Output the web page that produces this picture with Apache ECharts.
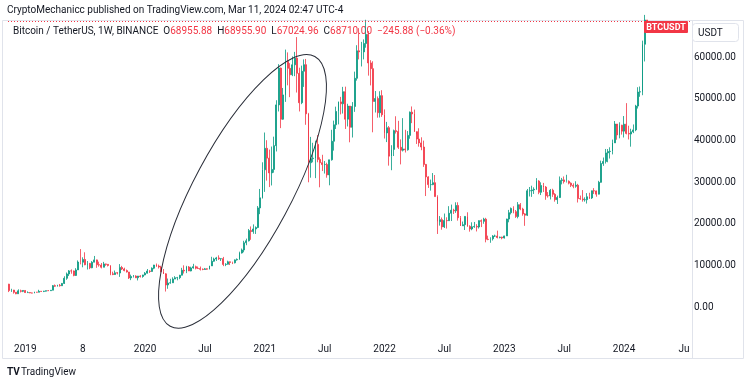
<!DOCTYPE html>
<html>
<head>
<meta charset="utf-8">
<script src="https://cdn.jsdelivr.net/npm/echarts@6/dist/echarts.min.js"></script>
<style>html,body{margin:0;padding:0;background:#fff}#c{width:750px;height:385px}</style>
</head>
<body>
<div id="c"></div>
<script>
// Weekly BTCUSDT candles, each [open, close, low, high]
const candles2018 = [ // from week of 2018-11-19
  [5560,4010,3650,5630],[4010,4140,3690,4440],[4140,3610,3270,4180],[3610,3230,3150,3640],
  [3240,3960,3230,4310],[3960,3830,3560,4240],[3830,4040,3640,4100]
];
const candles2019 = [
  [4040,3530,3460,4110],[3530,3530,3480,3820],[3530,3440,3400,3620],[3440,3410,3350,3530],
  [3410,3630,3370,3740],[3630,3610,3560,3680],[3610,3830,3600,4200],[3830,3820,3730,3900],
  [3810,3880,3650,3940],[3880,3990,3780,4000],[3990,3980,3910,4120],[3980,4100,3940,4130],
  [4100,5190,4080,5350],[5190,5060,4920,5470],[5060,5290,4990,5410],[5290,5170,4960,5600],
  [5170,5730,5150,5840],[5730,6960,5600,7450],[6960,8000,6600,8350],[8000,8740,7500,8950],
  [8740,8725,8060,9090],[8725,7640,7450,8830],[7640,8960,7520,9390],[8970,10860,8950,11250],
  [10860,10820,10300,13970],[10820,11480,9600,12000],[11480,10200,10100,13200],[10200,10540,9070,11100],
  [10540,9480,9150,10650],[9480,10820,9380,11080],[10820,11380,10800,12320],[11380,10220,9470,11450],
  [10220,10140,9750,10950],[10140,9610,9330,10620],[9610,10400,9600,10900],[10400,10310,9950,10470],
  [10310,10040,9800,10350],[10040,8050,7700,10060],[8050,7860,7710,8550],[7860,8280,7780,8830],
  [8280,8220,7880,8420],[8220,9550,7300,10370],[9550,9200,8950,9940],[9200,8810,8640,9500],
  [8810,8470,8350,9070],[8470,7050,6790,8480],[7050,7400,6520,7840],[7400,7510,7150,7750],
  [7510,7080,7020,7680],[7080,7510,6440,7520],[7510,7390,7150,7700],[7390,7760,7100,7800]
];
const candles2020 = [
  [7760,8180,7680,8460],[8180,8710,8100,9190],[8710,8600,8240,8900],[8600,9380,8540,9580],
  [9380,10150,9140,10180],[10150,9900,9700,10500],[9900,9660,9300,10250],[9660,8530,8400,9960],
  [8530,8030,8000,9190],[8030,5360,3780,8180],[5360,5820,4440,6900],[5820,5880,5670,6840],
  [5880,6770,5860,7200],[6770,7100,6780,7470],[7100,7120,6480,7300],[7120,7700,6750,7780],
  [7700,8880,7650,9470],[8880,8720,8100,10070],[8720,9680,8200,9950],[9680,8720,8700,9900],
  [8720,9450,8630,9740],[9450,9750,9270,10430],[9750,9380,9100,10000],[9380,9300,9200,9790],
  [9300,9120,8830,9780],[9120,9070,8900,9330],[9070,9230,9050,9440],[9230,9160,9010,9340],
  [9160,9930,9080,9970],[9930,11050,9940,12120],[11050,11580,10930,11920],[11580,11850,11120,12100],
  [11850,11650,11370,12470],[11650,11680,11120,11760],[11680,10280,9880,12090],[10280,10330,9880,10580],
  [10330,10920,10260,11180],[10920,10770,10140,10990],[10770,10670,10370,10950],[10670,11380,10530,11490],
  [11380,11500,11200,11720],[11500,13030,11410,13350],[13030,13760,12900,14100],[13760,15480,13200,15960],
  [15480,15960,14900,16480],[15960,18410,15800,18800],[18410,18180,16200,19400],[18180,18800,17650,19900],
  [18800,19150,17600,19420],[19150,23850,19000,24300],[23850,26270,22350,28400],[26270,33000,26100,34800]
];
const candles2021 = [
  [33000,38150,27700,41950],[38150,35800,30400,40100],[35800,32260,28850,37850],[32260,33090,29240,38580],
  [33090,38800,32300,40950],[38800,48580,37400,49700],[48580,57410,47000,58350],[57410,45140,43000,57540],
  [45140,50970,45000,52640],[50970,59000,49300,61850],[59000,57350,53270,61180],[57350,55800,50430,58600],
  [55800,58200,55480,60200],[58200,59800,55470,61300],[59800,56150,51540,64850],[56150,49100,47000,57500],
  [49100,56650,48750,58000],[56650,58230,52900,59500],[58230,46430,43800,59600],[46430,34700,30000,46660],
  [34700,35680,31100,40900],[35680,35800,34800,39480],[35800,39100,31000,39990],[39100,35500,34800,41330],
  [35500,34700,28800,36000],[34700,34250,32700,36600],[34250,34260,32100,35100],[34260,31780,31100,34700],
  [31780,35400,29280,35400],[35400,39850,35200,42600],[39850,43800,37600,44800],[43800,47000,42800,48150],
  [47000,49300,43900,49380],[49300,48850,46300,50500],[48850,51750,46500,52900],[51750,45150,42800,52950],
  [45150,48300,43400,48850],[48300,43200,39600,45000],[43200,48200,40750,49250],[48200,54960,46900,56560],
  [54960,61550,54400,62900],[61550,61300,59500,67000],[61300,61300,57800,63700],[61300,63300,59500,64300],
  [63300,65500,62300,69000],[65500,58650,55600,66300],[58650,57280,53250,59300],[57280,49400,42000,59050],
  [49400,50100,46750,51900],[50100,46700,45500,50600],[46700,50800,45550,51850],[50800,46200,45700,52100]
];
const candles2022 = [
  [46200,41850,40500,47500],[41850,43100,39650,44500],[43100,36280,34000,43500],[36280,37900,32900,38900],
  [37900,42400,36300,42650],[42400,42200,41700,45850],[42200,38400,38000,44750],[38400,37700,34300,40300],
  [37700,38000,37400,45400],[38000,37800,37150,42600],[37800,41260,37600,42300],[41260,46830,40460,46990],
  [46830,46400,44200,48200],[46400,42150,42100,47450],[42150,40380,39200,41560],[40380,39450,38550,42970],
  [39450,38470,37700,40800],[38470,34300,33700,40000],[34300,31300,26700,34400],[31300,29450,28650,31450],
  [29450,29450,28000,30650],[29450,29900,29300,32220],[29900,26570,26560,31750],[26570,20550,17600,26880],
  [20550,21030,19600,21900],[21030,19300,18620,21550],[19300,20830,19040,22500],[20830,20780,18900,21600],
  [20780,22570,20760,24270],[22570,23300,20700,24650],[23300,23170,22400,23650],[23170,24440,22660,25200],
  [24440,21500,20800,25200],[21500,19550,19520,21900],[19550,19830,19520,20580],[19830,21820,18550,21860],
  [21820,19410,19320,22800],[19410,18800,18150,19690],[18800,19310,18500,20400],[19310,19410,19080,20480],
  [19410,19270,18200,19950],[19270,20800,18900,20880],[20800,20630,19250,21080],[20630,21150,20050,21480],
  [21150,16330,15590,21470],[16330,16280,16100,17190],[16280,16450,15480,16800],[16450,17100,16030,17320],
  [17100,17100,16880,17430],[17100,16740,16530,18400],[16740,16840,16550,16960],[16840,16620,16330,16940]
];
const candles2023 = [
  [16620,17130,16500,17180],[17130,21180,17120,21260],[21180,22710,20400,23370],[22710,23740,22290,23950],
  [23740,22950,22550,24250],[22950,21780,21450,23350],[21780,24630,21350,25250],[24630,23570,23300,25020],
  [23570,22420,21980,23880],[22420,22100,19550,22600],[22100,27960,21900,28400],[27960,27990,26600,28870],
  [27990,28170,26500,29180],[28170,28330,27200,28800],[28330,30300,28150,31000],[30300,27590,27140,30500],
  [27590,29230,26940,30000],[29230,28850,27680,29850],[28850,26780,25800,29100],[26780,26750,26330,27650],
  [26750,28080,25880,28400],[28080,27110,26500,28450],[27110,25840,25350,27400],[25840,26340,24800,26800],
  [26340,30460,26240,31400],[30460,30580,29500,31050],[30580,30170,29700,31400],[30170,30230,29950,31800],
  [30230,29790,29500,30450],[29790,29270,28860,29980],[29270,29050,28580,29750],[29050,29300,28700,30250],
  [29300,26090,25150,29630],[26090,26000,25800,26820],[26000,25820,25350,28130],[25820,25830,25360,26400],
  [25830,26530,24900,27400],[26530,26250,26000,27480],[26250,27970,26000,28000],[27970,27930,27200,28600],
  [27930,27150,26540,28000],[27150,29990,27100,30350],[29990,34500,29900,35200],[34500,35000,33950,35950],
  [35000,37060,34500,38000],[37060,37380,34800,37980],[37380,37450,35700,38400],[37450,39460,36700,40250],
  [39460,43990,39450,44700],[43990,41370,40220,43430],[41370,43700,40550,44400],[43700,42280,41450,43800]
];
const candles2024 = [
  [42280,43950,40750,45900],[43950,41730,41500,49000],[41730,41580,40280,43580],[41580,42120,38550,42850],
  [42120,42580,41800,43880],[42580,48300,42260,48590],[48300,51660,47700,52820],[51660,51730,50520,52990],
  [51730,63130,50900,64000],[63130,68955.88,59000,70170],[68955.88,68710.00,67024.96,68955.90]
];
const firstWeek = '2018-11-19';
const weekCount = 297; // visible time scale incl. empty future weeks
const xTickDates = ['2019-01-07','2019-07-01','2020-01-06','2020-07-06','2021-01-04','2021-07-05',
  '2022-01-03','2022-07-04','2023-01-02','2023-07-03','2024-01-01','2024-07-01'];
const xTickTexts = ['2019','8','2020','Jul','2021','Jul','2022','Jul','2023','Jul','2024','Ju'];
const yTickValues = [0,10000,20000,30000,40000,50000,60000];

const candles = [].concat(candles2018,candles2019,candles2020,candles2021,candles2022,candles2023,candles2024);
const dates = [];
const t0 = Date.UTC(2018,10,19);
for (let i = 0; i < weekCount; i++) {
  dates.push(new Date(t0 + i*7*86400000).toISOString().slice(0,10));
}
const last = candles[candles.length-1];
const prevClose = candles[candles.length-2][1];
const chg = last[1]-prevClose;
const pct = chg/prevClose*100;
const fmt = v => v.toFixed(2);
const minus = v => (v < 0 ? '\u2212' : '+') + Math.abs(v).toFixed(2);

const UP = '#089981', DOWN = '#f23645';
const FONT = 'Roboto, "Noto Sans", sans-serif';
const chart = echarts.init(document.getElementById('c'), null, {renderer:'canvas'});
chart.setOption({
  animation: false,
  grid: {left: 8, right: 58, top: 20, bottom: 48},
  xAxis: {
    type: 'category', data: dates, boundaryGap: true,
    axisLine: {show: false}, axisTick: {show: false}, splitLine: {show: false},
    axisLabel: {
      interval: (i, v) => xTickDates.indexOf(v) >= 0,
      formatter: v => xTickTexts[xTickDates.indexOf(v)],
      color: '#131722', fontSize: 10, fontFamily: FONT, margin: 7
    }
  },
  yAxis: {
    type: 'value', position: 'right', min: -7130, max: 68950, scale: false,
    axisLine: {show: false}, axisTick: {show: false}, splitLine: {show: false},
    axisLabel: {customValues: yTickValues, formatter: v => fmt(v), color: '#131722',
      fontSize: 10, fontFamily: FONT, margin: 2, align: 'left'}
  },
  series: [{
    type: 'candlestick', data: candles, barWidth: 1.4, clip: true,
    itemStyle: {color: UP, color0: DOWN, borderColor: UP, borderColor0: DOWN, borderWidth: 0.8},
    markLine: {
      silent: true, symbol: 'none', label: {show: false},
      lineStyle: {color: DOWN, type: [1, 2], width: 1},
      data: [{yAxis: last[1]}]
    }
  }],
  graphic: [
    {type: 'rect', shape: {x: 2.5, y: 20.5, width: 741, height: 338}, style: {fill: 'none', stroke: '#e0e3eb', lineWidth: 1}, silent: true},
    {type: 'line', shape: {x1: 692.5, y1: 20, x2: 692.5, y2: 358}, style: {stroke: '#e0e3eb', lineWidth: 1}, silent: true},
    {type: 'text', x: 7, y: 10, style: {text: 'CryptoMechanicc published on TradingView.com, Mar 11, 2024 02:47 UTC-4', fill: '#131722', font: '10px ' + FONT, verticalAlign: 'middle'}},
    {type: 'text', x: 13, y: 31, style: {
      text: '{n|Bitcoin / TetherUS, 1W, BINANCE}  {k|O}{v|' + fmt(last[0]) + '}  {k|H}{v|' + fmt(last[3]) + '}  {k|L}{v|' + fmt(last[2]) + '}  {k|C}{v|' + fmt(last[1]) + '}  {v|' + minus(chg) + ' (' + minus(pct) + '%)}',
      verticalAlign: 'middle', font: '10px ' + FONT,
      rich: {n: {fill: '#131722', font: '10px ' + FONT}, k: {fill: '#131722', font: '10px ' + FONT}, v: {fill: DOWN, font: '10px ' + FONT}}
    }},
    {type: 'ellipse', x: 242.5, y: 191.4, rotation: 1.0786, shape: {cx: 0, cy: 0, rx: 153, ry: 48.4}, style: {fill: 'none', stroke: '#2a2e39', lineWidth: 1}, silent: true, z: 100},
    {type: 'rect', shape: {x: 644, y: 21, width: 44, height: 12, r: 1}, style: {fill: DOWN}, z: 100},
    {type: 'text', x: 666, y: 27.5, z: 101, style: {text: 'BTCUSDT', fill: '#fff', font: 'bold 9px ' + FONT, align: 'center', verticalAlign: 'middle'}},
    {type: 'rect', shape: {x: 692.5, y: 23.5, width: 46, height: 18, r: 3}, style: {fill: '#fff', stroke: '#e0e3eb', lineWidth: 1}, z: 100},
    {type: 'text', x: 698, y: 33, z: 101, style: {text: 'USDT', fill: '#131722', font: '10px ' + FONT, verticalAlign: 'middle'}},
    {type: 'text', x: 7, y: 372, style: {text: 'TV', fill: '#131722', font: 'bold 10px ' + FONT, verticalAlign: 'middle'}},
    {type: 'text', x: 21, y: 372, style: {text: 'TradingView', fill: '#131722', font: '10px ' + FONT, verticalAlign: 'middle'}}
  ]
});
</script>
</body>
</html>
